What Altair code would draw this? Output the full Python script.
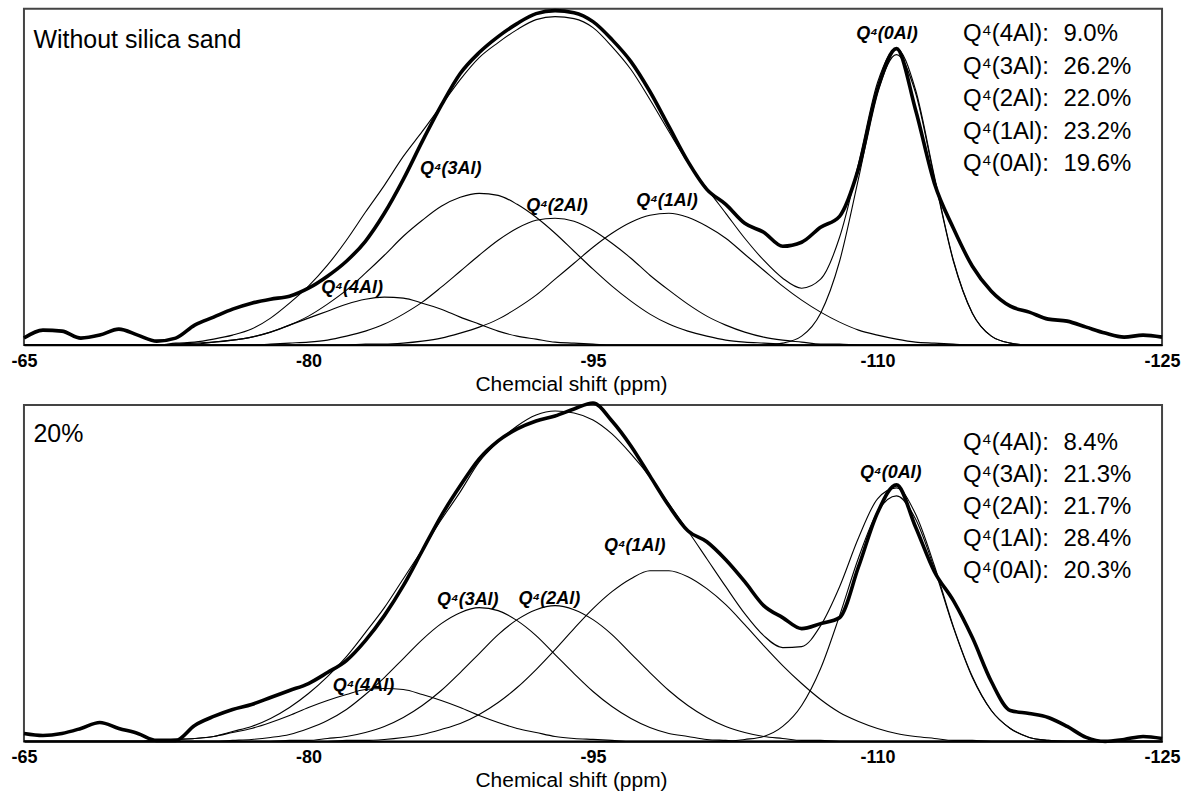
import altair as alt
import pandas as pd

# Chemical-shift grid (ppm), 1 ppm apart, shared by every curve
PPM = list(range(-65, -126, -1))
TICKS = [-65, -80, -95, -110, -125]

COMPONENTS = ["4Al", "3Al", "2Al", "1Al", "0Al"]
PEAK_NAMES = ["Q⁴(4Al)", "Q⁴(3Al)", "Q⁴(2Al)", "Q⁴(1Al)", "Q⁴(0Al)"]
ROW_NAMES = ["Q⁴(4Al):", "Q⁴(3Al):", "Q⁴(2Al):", "Q⁴(1Al):", "Q⁴(0Al):"]

# ---- Panel 1: without silica sand (intensity, a.u.) ----
TOP_SPECTRUM = [7, 15, 14, 7, 10, 16, 10, 4, 7, 20,
                28, 36, 42, 46, 49, 57, 69, 84, 104, 132,
                166, 204, 240, 272, 293, 309, 322, 332, 335, 333,
                324, 306, 284, 254, 219, 184, 156, 141, 122, 113,
                99, 103, 118, 129, 177, 256, 297, 236, 162, 117,
                79, 54, 39, 33, 26, 24, 18, 12, 8, 10,
                8]
TOP_FIT = [0, 0, 0, 0, 0, 0, 0, 0, 2, 3,
           6, 10, 16, 27, 42, 59, 80, 105, 133, 160,
           189, 214, 240, 266, 288, 303, 316, 326, 329, 327,
           318, 299, 276, 246, 214, 183, 157, 132, 107, 85,
           67, 57, 66, 108, 182, 263, 297, 256, 169, 85,
           32, 9, 2, 0, 0, 0, 0, 0, 0, 0,
           0]
TOP_4AL = [0, 0, 0, 0, 0, 0, 0, 0, 1, 1,
           3, 5, 8, 13, 20, 27, 34, 41, 46, 48,
           47, 42, 36, 28, 21, 14, 9, 6, 3, 2,
           1, 0, 0, 0, 0, 0, 0, 0, 0, 0,
           0, 0, 0, 0, 0, 0, 0, 0, 0, 0,
           0, 0, 0, 0, 0, 0, 0, 0, 0, 0,
           0]
TOP_3AL = [0, 0, 0, 0, 0, 0, 0, 0, 1, 2,
           3, 5, 8, 13, 20, 29, 41, 55, 72, 90,
           109, 125, 139, 148, 152, 150, 141, 128, 112, 94,
           76, 59, 44, 31, 21, 14, 9, 5, 3, 2,
           1, 0, 0, 0, 0, 0, 0, 0, 0, 0,
           0, 0, 0, 0, 0, 0, 0, 0, 0, 0,
           0]
TOP_2AL = [0, 0, 0, 0, 0, 0, 0, 0, 0, 0,
           0, 0, 0, 1, 2, 3, 5, 9, 14, 21,
           31, 43, 58, 74, 90, 105, 117, 125, 127, 124,
           115, 102, 87, 70, 55, 41, 29, 20, 13, 8,
           5, 3, 1, 1, 0, 0, 0, 0, 0, 0,
           0, 0, 0, 0, 0, 0, 0, 0, 0, 0,
           0]
TOP_1AL = [0, 0, 0, 0, 0, 0, 0, 0, 0, 0,
           0, 0, 0, 0, 0, 0, 0, 0, 1, 1,
           2, 4, 7, 12, 18, 26, 37, 50, 66, 82,
           98, 112, 123, 130, 132, 128, 119, 107, 91, 75,
           59, 45, 33, 23, 15, 10, 6, 3, 2, 1,
           0, 0, 0, 0, 0, 0, 0, 0, 0, 0,
           0]
TOP_0AL = [0, 0, 0, 0, 0, 0, 0, 0, 0, 0,
           0, 0, 0, 0, 0, 0, 0, 0, 0, 0,
           0, 0, 0, 0, 0, 0, 0, 0, 0, 0,
           0, 0, 0, 0, 0, 0, 0, 0, 0, 0,
           2, 9, 32, 84, 167, 253, 291, 253, 167, 84,
           32, 9, 2, 0, 0, 0, 0, 0, 0, 0,
           0]
TOP_PCT = ["9.0%", "26.2%", "22.0%", "23.2%", "19.6%"]
TOP_PEAK_PPM = [-82.3, -87.5, -93.1, -98.9, -110.5]
TOP_PEAK_Y = [57, 176, 139, 144, 312]
TOP_ROW_Y = [312, 279, 246, 213, 181]

# ---- Panel 2: 20 % silica sand ----
LOW_SPECTRUM = [8, 6, 8, 13, 19, 13, 8, 1, 1, 16,
                25, 32, 37, 44, 51, 58, 69, 81, 101, 126,
                156, 191, 226, 256, 283, 301, 313, 321, 326, 333,
                339, 321, 296, 266, 236, 211, 200, 182, 160, 136,
                124, 113, 118, 124, 175, 229, 257, 215, 170, 141,
                104, 60, 31, 28, 24, 15, 4, 0, 2, 5,
                3]
LOW_FIT = [0, 0, 0, 0, 0, 0, 0, 1, 2, 3,
           5, 10, 15, 23, 34, 48, 65, 85, 109, 134,
           163, 192, 222, 250, 280, 300, 316, 327, 331, 329,
           322, 308, 288, 265, 238, 211, 183, 155, 128, 106,
           94, 95, 116, 155, 204, 243, 254, 228, 176, 115,
           65, 31, 13, 4, 1, 0, 0, 0, 0, 0,
           0]
LOW_4AL = [0, 0, 0, 0, 0, 0, 0, 1, 2, 3,
           5, 9, 13, 19, 26, 34, 41, 47, 52, 53,
           52, 47, 41, 34, 26, 19, 13, 9, 5, 3,
           2, 1, 0, 0, 0, 0, 0, 0, 0, 0,
           0, 0, 0, 0, 0, 0, 0, 0, 0, 0,
           0, 0, 0, 0, 0, 0, 0, 0, 0, 0,
           0]
LOW_3AL = [0, 0, 0, 0, 0, 0, 0, 0, 0, 0,
           0, 1, 2, 4, 7, 13, 21, 32, 47, 64,
           83, 102, 118, 129, 134, 131, 121, 106, 87, 68,
           50, 35, 23, 14, 8, 5, 2, 1, 0, 0,
           0, 0, 0, 0, 0, 0, 0, 0, 0, 0,
           0, 0, 0, 0, 0, 0, 0, 0, 0, 0,
           0]
LOW_2AL = [0, 0, 0, 0, 0, 0, 0, 0, 0, 0,
           0, 0, 0, 0, 1, 1, 3, 5, 9, 15,
           24, 36, 51, 69, 88, 107, 122, 132, 136, 132,
           122, 107, 88, 69, 51, 36, 24, 15, 9, 5,
           3, 1, 1, 0, 0, 0, 0, 0, 0, 0,
           0, 0, 0, 0, 0, 0, 0, 0, 0, 0,
           0]
LOW_1AL = [0, 0, 0, 0, 0, 0, 0, 0, 0, 0,
           0, 0, 0, 0, 0, 0, 0, 1, 1, 2,
           4, 7, 12, 18, 27, 39, 54, 72, 92, 113,
           133, 150, 163, 171, 171, 165, 153, 137, 117, 96,
           76, 58, 42, 29, 20, 13, 8, 5, 3, 1,
           1, 0, 0, 0, 0, 0, 0, 0, 0, 0,
           0]
LOW_0AL = [0, 0, 0, 0, 0, 0, 0, 0, 0, 0,
           0, 0, 0, 0, 0, 0, 0, 0, 0, 0,
           0, 0, 0, 0, 0, 0, 0, 0, 0, 0,
           0, 0, 0, 0, 0, 0, 0, 0, 2, 5,
           15, 36, 73, 126, 184, 230, 246, 223, 173, 114,
           64, 31, 13, 4, 1, 0, 0, 0, 0, 0,
           0]
LOW_PCT = ["8.4%", "21.3%", "21.7%", "28.4%", "20.3%"]
LOW_PEAK_PPM = [-82.9, -88.4, -92.7, -97.2, -110.7]
LOW_PEAK_Y = [56, 142, 143, 196, 269]
LOW_ROW_Y = [299, 267, 235, 203, 171]

# Placement of the sample label and the percentage list (ppm)
SAMPLE_LABEL_PPM = -65.5
ROW_NAME_PPM = -114.5
ROW_VALUE_PPM = -119.8

FONT = "Liberation Sans"
PLOT_W, PLOT_H = 1140, 337
Y_MAX = 337


def x_enc(title):
    return alt.X(
        "ppm:Q",
        scale=alt.Scale(domain=[-125, -65], reverse=True, nice=False, zero=False),
        axis=alt.Axis(
            values=TICKS, labelExpr="'' + datum.value", title=title,
            grid=False, tickSize=0, domainColor="black", domainWidth=1.5,
            labelFont=FONT, labelFontSize=18, labelFontWeight="bold",
            labelColor="black", labelPadding=7, labelFlush=False,
            titleFont=FONT, titleFontSize=21, titleFontWeight="normal",
            titleColor="black", titlePadding=3, titleX=548,
        ),
    )


def y_enc():
    return alt.Y("value:Q", scale=alt.Scale(domain=[0, Y_MAX], nice=False), axis=None)


def panel(spectrum, fit, comps, sample, xtitle, peak_ppm, peak_y, pct, row_y, sample_y):
    thin_rows = []
    for name, values in list(zip(COMPONENTS, comps)) + [("fit", fit)]:
        for p, v in zip(PPM, values):
            thin_rows.append({"ppm": p, "value": v, "series": name})
    thin_df = pd.DataFrame(thin_rows)
    spec_df = pd.DataFrame({"ppm": PPM, "value": spectrum})

    thin = alt.Chart(thin_df).mark_line(
        color="black", strokeWidth=1.1, interpolate="monotone", clip=False
    ).encode(x=x_enc(xtitle), y=y_enc(), detail="series:N")

    thick = alt.Chart(spec_df).mark_line(
        color="black", strokeWidth=3.6, interpolate="monotone",
        strokeJoin="round", clip=False
    ).encode(x=x_enc(xtitle), y=y_enc())

    peaks = alt.Chart(pd.DataFrame({
        "ppm": peak_ppm, "value": peak_y, "label": PEAK_NAMES
    })).mark_text(
        font=FONT, fontSize=18, fontWeight="bold", fontStyle="italic",
        align="center", baseline="middle", color="black"
    ).encode(x=x_enc(xtitle), y=y_enc(), text="label:N")

    names = alt.Chart(pd.DataFrame({
        "ppm": [ROW_NAME_PPM] * 5, "value": row_y, "label": ROW_NAMES
    })).mark_text(
        font=FONT, fontSize=24, align="left", baseline="middle", color="black"
    ).encode(x=x_enc(xtitle), y=y_enc(), text="label:N")

    values = alt.Chart(pd.DataFrame({
        "ppm": [ROW_VALUE_PPM] * 5, "value": row_y, "label": pct
    })).mark_text(
        font=FONT, fontSize=24, align="left", baseline="middle", color="black"
    ).encode(x=x_enc(xtitle), y=y_enc(), text="label:N")

    sample_text = alt.Chart(pd.DataFrame({
        "ppm": [SAMPLE_LABEL_PPM], "value": [sample_y], "label": [sample]
    })).mark_text(
        font=FONT, fontSize=25, align="left", baseline="middle", color="black"
    ).encode(x=x_enc(xtitle), y=y_enc(), text="label:N")

    return alt.layer(thin, thick, peaks, names, values, sample_text).properties(
        width=PLOT_W, height=PLOT_H
    )


top = panel(TOP_SPECTRUM, TOP_FIT,
            [TOP_4AL, TOP_3AL, TOP_2AL, TOP_1AL, TOP_0AL],
            "Without silica sand", "Chemcial shift (ppm)",
            TOP_PEAK_PPM, TOP_PEAK_Y, TOP_PCT, TOP_ROW_Y, 306)
bottom = panel(LOW_SPECTRUM, LOW_FIT,
               [LOW_4AL, LOW_3AL, LOW_2AL, LOW_1AL, LOW_0AL],
               "20%", "Chemical shift (ppm)",
               LOW_PEAK_PPM, LOW_PEAK_Y, LOW_PCT, LOW_ROW_Y, 308)

chart = alt.vconcat(top, bottom, spacing=5).properties(
    padding={"left": 9, "top": 7, "right": 4, "bottom": 2},
    background="white",
).configure_view(
    stroke="#444444", strokeWidth=2
)

chart.save("out.html", embed_options={"renderer": "svg", "actions": False})
